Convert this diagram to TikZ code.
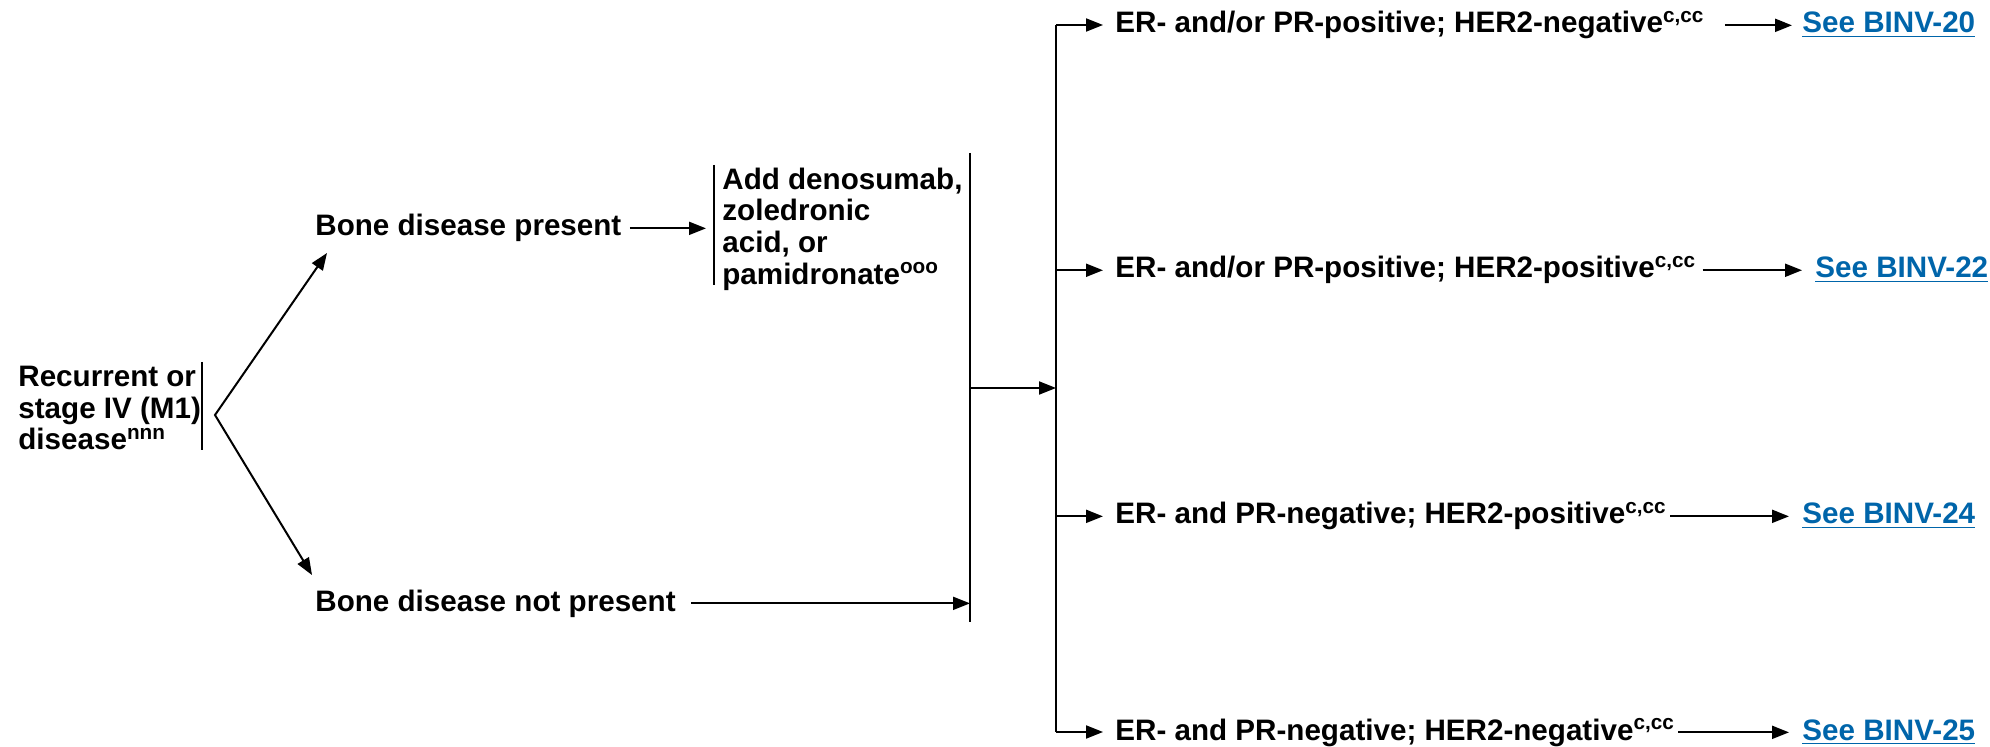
\documentclass[tikz,border=0pt]{standalone}
\usepackage{fontspec}
\setmainfont{Liberation Sans}
\usetikzlibrary{arrows.meta,positioning}

\definecolor{linkblue}{RGB}{0,101,170}
\tikzstyle{arrow} = [draw, -{Triangle[length=8.5pt,width=6.5pt]}, line width=1pt]
\tikzstyle{dblarrow} = [draw, {Triangle[length=8.5pt,width=6.5pt]}-{Triangle[length=8.5pt,width=6.5pt]}, line width=1pt]
\tikzstyle{bar} = [draw, line width=1.2pt]
\tikzstyle{txt} = [inner sep=0pt, anchor=base west, align=left, font=\bfseries\fontsize{14.8}{15.8}\selectfont]
\tikzstyle{link} = [txt, text=linkblue]

\begin{document}
\begin{tikzpicture}[x=0.5pt, y=-0.5pt]
    \useasboundingbox (0,0) rectangle (1990,747);

    % start
    \node[txt, anchor=west] (rec) at (18,408) {Recurrent or\\stage IV (M1)\\disease\textsuperscript{nnn}};
    \coordinate (recbartop) at (202,362);
    \coordinate (recbarbot) at (202,450);
    \coordinate (apex) at (215,415);
    \coordinate (uptip) at (327,253);
    \coordinate (downtip) at (312,575);
    \draw[bar] (recbartop) -- (recbarbot);
    \draw[dblarrow] (uptip) -- (apex) -- (downtip);

    % bone disease
    \node[txt] (bonepres) at (315,236) {Bone disease present};
    \node[txt] (bonenot) at (315,611) {Bone disease not present};

    \node[txt, anchor=west] (add) at (722,229) {Add denosumab,\\zoledronic\\acid, or\\pamidronate\textsuperscript{ooo}};
    \coordinate (addtop) at (714,165);
    \coordinate (addbot) at (714,285);
    \draw[bar] (addtop) -- (addbot);
    \draw[arrow, shorten <=4pt, shorten >=4pt] (bonepres.east) -- (bonepres.east -| addtop);

    % joining bar
    \coordinate (jtop) at (970,153);
    \coordinate (jbot) at (970,622);
    \coordinate (jmid) at (970,388);
    \draw[bar] (jtop) -- (jbot);
    \draw[arrow, shorten <=7.5pt] (bonenot.east) -- (bonenot.east -| jtop);

    % receptor status
    \coordinate (rtop) at (1056,25);
    \coordinate (rbot) at (1056,732);
    \draw[bar] (rtop) -- (rbot);
    \draw[arrow] (jmid) -- (jmid -| rtop);

    \node[txt] (er1) at (1115,33) {ER- and/or PR-positive; HER2-negative\textsuperscript{c,cc}};
    \node[txt] (er2) at (1115,278) {ER- and/or PR-positive; HER2-positive\textsuperscript{c,cc}};
    \node[txt] (er3) at (1115,524) {ER- and PR-negative; HER2-positive\textsuperscript{c,cc}};
    \node[txt] (er4) at (1115,740) {ER- and PR-negative; HER2-negative\textsuperscript{c,cc}};

    \draw[arrow, shorten >=6pt] (rtop) -- (rtop -| er1.west);
    \draw[arrow, shorten >=6pt] (er2.west -| rtop) -- (er2.west);
    \draw[arrow, shorten >=6pt] (er3.west -| rtop) -- (er3.west);
    \draw[arrow, shorten >=6pt] (rbot) -- (rbot -| er4.west);

    % links
    \node[link] (binv20) at (1802,33) {\underline{See BINV-20}};
    \node[link] (binv22) at (1815,278) {\underline{See BINV-22}};
    \node[link] (binv24) at (1802,524) {\underline{See BINV-24}};
    \node[link] (binv25) at (1802,740) {\underline{See BINV-25}};

    \draw[arrow, shorten <=10pt, shorten >=5pt] (er1.east) -- (er1.east -| binv20.west);
    \draw[arrow, shorten <=3pt, shorten >=6.5pt] (er2.east) -- (er2.east -| binv22.west);
    \draw[arrow, shorten <=1.5pt, shorten >=6.5pt] (er3.east) -- (er3.east -| binv24.west);
    \draw[arrow, shorten <=1.5pt, shorten >=6.5pt] (er4.east) -- (er4.east -| binv25.west);
\end{tikzpicture}
\end{document}
